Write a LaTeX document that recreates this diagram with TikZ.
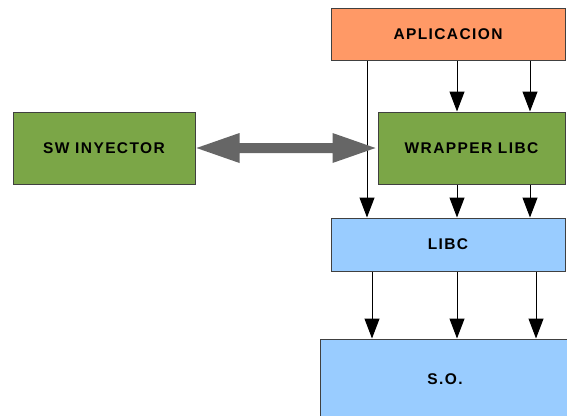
\documentclass[tikz,border=0pt]{standalone}
\usepackage{fontspec}
\setmainfont{Liberation Sans}
\newfontfamily\boxfont[LetterSpace=9]{Liberation Sans}
\usetikzlibrary{arrows.meta,calc}
\definecolor{appcol}{HTML}{FF9966}
\definecolor{wrapcol}{HTML}{7BA647}
\definecolor{libcol}{HTML}{99CCFF}
\definecolor{linkcol}{HTML}{666666}
\begin{document}
\begin{tikzpicture}[x=1pt,y=-1pt,
  block/.style={draw=black!75,line width=1pt,inner sep=0pt,
    font=\boxfont\fontsize{15.5}{17}\selectfont\bfseries},
  flow/.style={line width=1pt,-{Triangle[length=20pt,width=15pt]}},
  link/.style={draw=none,fill=linkcol}]
\useasboundingbox (0,0) rectangle (567,415);
% layers
\node[block,fill=appcol,minimum width=234pt,minimum height=52pt] (app) at (448,34) {APLICACION};
\node[block,fill=wrapcol,minimum width=187pt,minimum height=72pt] (wrap) at (471.5,148) {WRAPPER LIBC};
\node[block,fill=wrapcol,minimum width=182pt,minimum height=72pt] (inj) at (104,148) {SW INYECTOR};
\node[block,fill=libcol,minimum width=234pt,minimum height=53pt] (libc) at (448,244.5) {LIBC};
\node[block,fill=libcol,minimum width=250pt,minimum height=80pt] (so) at (445,379) {S.O.};
% calls going down the stack
\draw[flow] (app.south -| 367,0) -- (libc.north -| 367,0);
\draw[flow] (app.south -| 457,0) -- (wrap.north -| 457,0);
\draw[flow] (app.south -| 530,0) -- (wrap.north -| 530,0);
\draw[flow] (wrap.south -| 457,0) -- (libc.north -| 457,0);
\draw[flow] (wrap.south -| 530,0) -- (libc.north -| 530,0);
\draw[flow] (libc.south -| 372,0) -- (so.north -| 372,0);
\draw[flow] (libc.south -| 457,0) -- (so.north -| 457,0);
\draw[flow] (libc.south -| 536,0) -- (so.north -| 536,0);
% two-way link between injector and wrapper
\coordinate (la) at ([xshift=1pt]inj.east);
\coordinate (lb) at ([xshift=-2pt]wrap.west);
\fill[link] (la) -- ++(43,-15) -- ++(0,10) -- ($(lb)+(-43,-5)$) -- ++(0,-10) -- (lb)
  -- ++(-43,15) -- ++(0,-10) -- ($(la)+(43,5)$) -- ++(0,10) -- cycle;
\end{tikzpicture}
\end{document}
